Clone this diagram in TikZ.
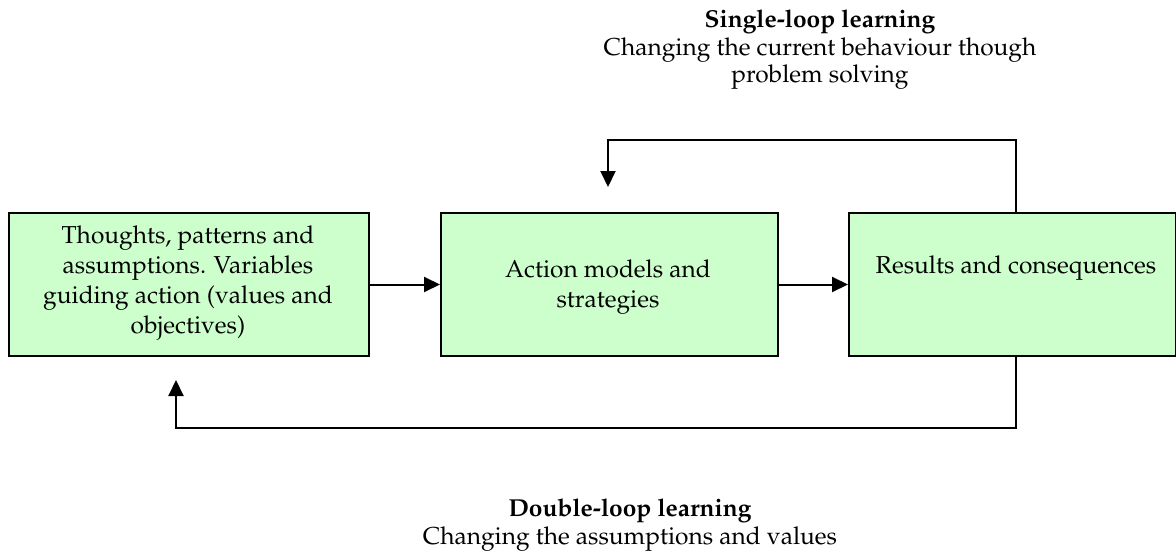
\documentclass[tikz,border=0pt]{standalone}
\usepackage[T1]{fontenc}
\usepackage{mathpazo}
\usetikzlibrary{arrows.meta}
\definecolor{boxgreen}{HTML}{CCFFCC}
\begin{document}
\begin{tikzpicture}[x=1pt,y=-1pt,
  box/.style={draw=black, line width=2pt, fill=boxgreen, rectangle, inner sep=0pt, anchor=north west, minimum height=143pt},
  boxtext/.style={inner sep=0pt, align=center, font=\fontsize{24.5}{30}\selectfont},
  lbl/.style={inner sep=0pt, align=center, font=\fontsize{24.5}{27.5}\selectfont},
  arr/.style={line width=2pt, -{Triangle[length=16pt,width=15pt]}},
  loopline/.style={line width=2pt}]
\useasboundingbox (0,0) rectangle (1176,551);
% boxes
\node[box, minimum width=360pt] (b1) at (8,212) {};
\node[box, minimum width=337pt] (b2) at (440,212) {};
\node[box, minimum width=327pt] (b3) at (848,212) {};
% box texts
\node[boxtext, anchor=north] (t1) at (188,225.5) {Thoughts, patterns and\\assumptions. Variables\\guiding action (values and\\objectives)};
\node[boxtext, anchor=north] (t2) at (608,259.6) {Action models and\\strategies};
\node[boxtext, anchor=base] (t3) at (1016,273.5) {Results and consequences};
% labels
\node[lbl, anchor=north] (single) at (820,10) {\textbf{Single-loop learning}\\Changing the current behaviour though\\problem solving};
\node[lbl, anchor=north] (double) at (630,499) {\textbf{Double-loop learning}\\Changing the assumptions and values};
% connectors
\draw[arr] (b1.east) -- (b2.west);
\draw[arr] (b2.east) -- (b3.west);
\coordinate (s1) at (1016,140);
\coordinate (s2) at (608,187);
\draw[arr] (b3.north -| s1) -- (s1) -| (s2);
\coordinate (d1) at (1016,428);
\coordinate (d2) at (176,380);
\draw[arr] (b3.south -| d1) -- (d1) -| (d2);
\end{tikzpicture}
\end{document}
